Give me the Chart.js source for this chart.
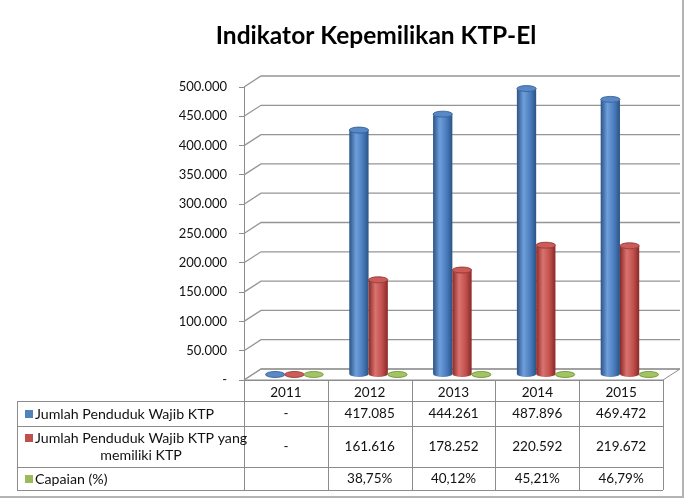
<!DOCTYPE html>
<html>
<head>
<meta charset="utf-8">
<script src="https://cdn.jsdelivr.net/npm/chart.js@4.4.1/dist/chart.umd.min.js"></script>
<style>
  html, body { margin: 0; padding: 0; background: #fff; }
  canvas { display: block; }
</style>
</head>
<body>
<canvas id="ktpChart" width="687" height="499"></canvas>
<script>
// =============================
// DATA
// =============================
const chartTitle = "Indikator Kepemilikan KTP-El";
const years = ["2011", "2012", "2013", "2014", "2015"];
const wajibKtp = [0, 417085, 444261, 487896, 469472];
const memilikiKtp = [0, 161616, 178252, 220592, 219672];
const capaian = [0, 38.75, 40.12, 45.21, 46.79];
const seriesNames = [
  "Jumlah Penduduk Wajib KTP",
  "Jumlah Penduduk Wajib KTP yang|memiliki KTP",
  "Capaian (%)"
];
const yTicks = [0, 50000, 100000, 150000, 200000, 250000, 300000, 350000, 400000, 450000, 500000];

// =============================
// HELPERS
// =============================
const FONT = "Lato";
const DX = 17, DY = -11;   // depth of the 3D box

function dots(v) {
  return String(v).replace(/\B(?=(\d{3})+(?!\d))/g, ".");
}
function num(v) { return v === 0 ? "-" : dots(v); }
function pct(v) { return v === 0 ? "" : v.toFixed(2).replace(".", ",") + "%"; }

const palettes = [
  { dark: "#2b5386", light: "#6f9fdb", mid: "#4a7cbc", cap: "#5789c8", key: "#4f81bd" },
  { dark: "#8a2926", light: "#da736f", mid: "#c0504d", cap: "#cb5c58", key: "#c0504d" },
  { dark: "#6c8c34", light: "#b6d27e", mid: "#9bbb59", cap: "#a2c462", key: "#9bbb59" }
];
const formats = [num, num, pct];

function cylinder(ctx, cx, top, base, r, ry, pal) {
  const g = ctx.createLinearGradient(cx - r, 0, cx + r, 0);
  g.addColorStop(0, pal.dark);
  g.addColorStop(0.35, pal.light);
  g.addColorStop(0.7, pal.mid);
  g.addColorStop(1, pal.dark);
  ctx.beginPath();
  ctx.moveTo(cx - r, top);
  ctx.lineTo(cx - r, base);
  ctx.ellipse(cx, base, r, ry, 0, Math.PI, 0, true);
  ctx.lineTo(cx + r, top);
  ctx.ellipse(cx, top, r, ry, 0, 0, Math.PI, false);
  ctx.closePath();
  ctx.fillStyle = g;
  ctx.fill();
  // top cap
  ctx.beginPath();
  ctx.ellipse(cx, top, r, ry, 0, 0, Math.PI * 2);
  ctx.fillStyle = pal.cap;
  ctx.fill();
  ctx.lineWidth = 0.8;
  ctx.strokeStyle = pal.dark;
  ctx.stroke();
}

// =============================
// 3D BOX + CYLINDERS + TABLE
// =============================
const boxPlugin = {
  id: "box3d",
  beforeDatasetsDraw(chart) {
    const ctx = chart.ctx;
    const y = chart.scales.y;
    const a = chart.chartArea;
    ctx.save();
    // floor
    const y0 = y.getPixelForValue(0);
    ctx.beginPath();
    ctx.moveTo(a.left, y0);
    ctx.lineTo(a.right, y0);
    ctx.lineTo(a.right + DX, y0 + DY);
    ctx.lineTo(a.left + DX, y0 + DY);
    ctx.closePath();
    ctx.fillStyle = "#ffffff";
    ctx.fill();
    ctx.strokeStyle = "#8c8c8c";
    ctx.lineWidth = 1;
    ctx.stroke();
    // back wall grid + side connectors
    ctx.strokeStyle = "#959595";
    ctx.lineWidth = 1.3;
    yTicks.forEach(v => {
      const py = y.getPixelForValue(v);
      ctx.beginPath();
      ctx.moveTo(a.left, py);
      ctx.lineTo(a.left + DX, py + DY);
      ctx.lineTo(a.right + DX, py + DY);
      ctx.stroke();
    });
    ctx.restore();
  },
  afterDatasetsDraw(chart) {
    const ctx = chart.ctx;
    ctx.save();
    chart.data.datasets.forEach((ds, i) => {
      const meta = chart.getDatasetMeta(i);
      meta.data.forEach(bar => {
        const p = bar.getProps(["x", "y", "base", "width"], true);
        cylinder(ctx, p.x + DX / 2, p.y + DY / 2, p.base + DY / 2, p.width / 2, 3, palettes[i]);
      });
    });
    ctx.restore();
  },
  afterDraw(chart) {
    const ctx = chart.ctx;
    const x = chart.scales.x;
    const a = chart.chartArea;
    const step = (a.right - a.left) / years.length;
    const tLeft = 17;
    const rows = [a.bottom, 401, 426, 467, 490];
    ctx.save();

    // title
    ctx.fillStyle = "#000";
    ctx.font = "bold 24.5px " + FONT;
    ctx.textAlign = "center";
    ctx.textBaseline = "alphabetic";
    ctx.fillText(chartTitle, 376, 44);

    // grid of the data table
    ctx.strokeStyle = "#8c8c8c";
    ctx.lineWidth = 1;
    ctx.beginPath();
    ctx.moveTo(a.left, rows[0] + 0.5);
    ctx.lineTo(a.right, rows[0] + 0.5);
    for (let r = 1; r < rows.length; r++) {
      ctx.moveTo(tLeft, rows[r] + 0.5);
      ctx.lineTo(a.right, rows[r] + 0.5);
    }
    ctx.moveTo(tLeft + 0.5, rows[1]);
    ctx.lineTo(tLeft + 0.5, rows[4]);
    for (let c = 0; c <= years.length; c++) {
      const cx = Math.round(a.left + c * step) + 0.5;
      ctx.moveTo(cx, rows[0]);
      ctx.lineTo(cx, rows[4]);
    }
    ctx.stroke();

    // header years
    ctx.font = "13.5px " + FONT;
    ctx.fillStyle = "#111";
    ctx.textBaseline = "middle";
    ctx.textAlign = "center";
    years.forEach((yr, i) => ctx.fillText(yr, x.getPixelForValue(i), 393));

    // rows
    const textY = [[414], [438, 455], [479]];
    const valY = [414, 447, 479];
    chart.data.datasets.forEach((ds, i) => {
      const lines = seriesNames[i].split("|");
      const ly = textY[i];
      ctx.fillStyle = palettes[i].key;
      ctx.fillRect(25, ly[0] - 4, 8, 8);
      ctx.fillStyle = "#111";
      ctx.font = "14.2px " + FONT;
      ctx.textAlign = "left";
      ctx.fillText(lines[0], 35, ly[0]);
      if (lines[1]) {
        const w = ctx.measureText(lines[0]).width;
        ctx.textAlign = "center";
        ctx.fillText(lines[1], 35 + w / 2, ly[1]);
      }
      ctx.font = "13.5px " + FONT;
      ctx.textAlign = "center";
      ds.data.forEach((v, j) => ctx.fillText(formats[i](v), x.getPixelForValue(j), valY[i]));
    });

    // outer frame
    ctx.strokeStyle = "#b4b4b4";
    ctx.lineWidth = 2;
    ctx.beginPath();
    ctx.moveTo(683, 0);
    ctx.lineTo(683, 497);
    ctx.lineTo(0, 497);
    ctx.stroke();
    ctx.restore();
  }
};

// =============================
// CHART
// =============================
const hidden = "rgba(0,0,0,0)";
new Chart(document.getElementById("ktpChart"), {
  type: "bar",
  data: {
    labels: years,
    datasets: [
      { label: seriesNames[0], data: wajibKtp, backgroundColor: hidden },
      { label: seriesNames[1].replace("|", " "), data: memilikiKtp, backgroundColor: hidden },
      { label: seriesNames[2], data: capaian, backgroundColor: hidden }
    ]
  },
  options: {
    responsive: false,
    animation: false,
    layout: { padding: { left: 0, right: 24, top: 87, bottom: 119 } },
    datasets: { bar: { categoryPercentage: 0.69, barPercentage: 1 } },
    plugins: { legend: { display: false }, tooltip: { enabled: false }, title: { display: false } },
    scales: {
      x: { display: false },
      y: {
        min: 0,
        max: 500000,
        afterFit: s => { s.width = 244; },
        afterBuildTicks: s => { s.ticks = yTicks.map(v => ({ value: v })); },
        ticks: {
          callback: v => num(v),
          color: "#111",
          padding: 12,
          font: { family: FONT, size: 13 }
        },
        grid: { drawOnChartArea: false, tickLength: 5, color: "#8c8c8c" },
        border: { display: true, color: "#8c8c8c" }
      }
    }
  },
  plugins: [boxPlugin]
});
</script>
</body>
</html>
